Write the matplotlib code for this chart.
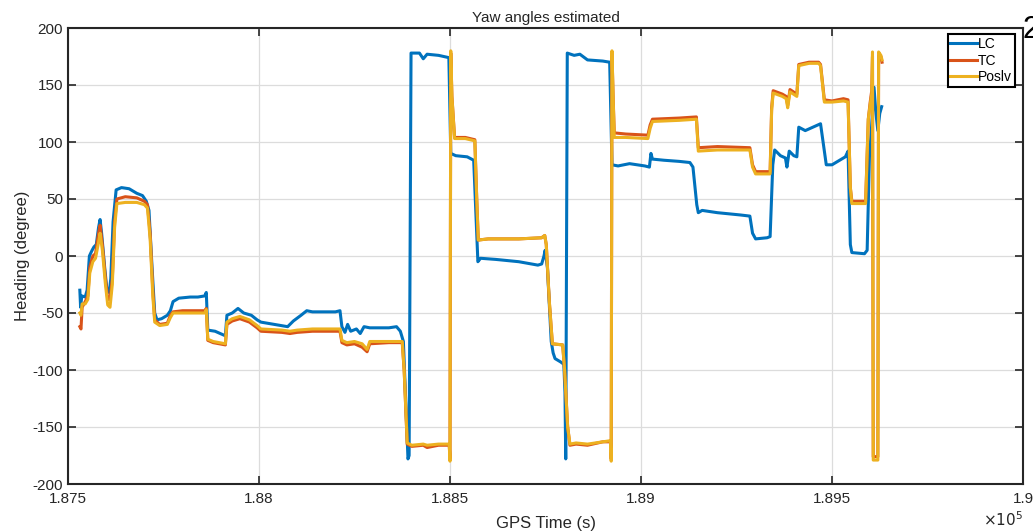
import numpy as np
import matplotlib.pyplot as plt
from matplotlib.ticker import FuncFormatter, MultipleLocator

# GPS time (s) and heading (degree)
t_lc = [187531, 187533, 187536, 187545, 187550, 187556, 187563, 187568, 187574, 187580,
        187584, 187588, 187596, 187602, 187608, 187612, 187618, 187626, 187640, 187660,
        187680, 187695, 187705, 187712, 187720, 187727, 187733, 187745, 187760, 187768,
        187775, 187790, 187820, 187840, 187858, 187862, 187866, 187885, 187905, 187912,
        187916, 187930, 187945, 187960, 187980, 187995, 188005, 188040, 188075, 188090,
        188110, 188125, 188140, 188200, 188212, 188217, 188225, 188232, 188240, 188255,
        188265, 188275, 188290, 188340, 188360, 188370, 188378, 188390, 188393, 188398,
        188420, 188430, 188440, 188470, 188497, 188502, 188515, 188545, 188562, 188570,
        188573, 188580, 188620, 188680, 188730, 188740, 188746, 188749, 188755, 188765,
        188770, 188775, 188790, 188798, 188801, 188803, 188807, 188825, 188840, 188860,
        188900, 188918, 188924, 188940, 188970, 189010, 189022, 189026, 189030, 189060,
        189100, 189128, 189136, 189146, 189150, 189160, 189200, 189260, 189285, 189292,
        189300, 189330, 189338, 189345, 189350, 189365, 189378, 189382, 189388, 189400,
        189408, 189413, 189430, 189450, 189470, 189485, 189500, 189520, 189535, 189542,
        189548, 189552, 189585, 189592, 189598, 189603, 189610, 189615, 189620, 189625,
        189630]
lc = [-30, -45, -35, -36, -30, 0, 5, 8, 10, 25,
      32, 20, -10, -30, -32, -20, 30, 58, 60, 59,
      55, 53, 48, 40, -10, -50, -56, -55, -52, -48,
      -40, -37, -36, -36, -35, -32, -65, -66, -69, -70,
      -52, -50, -46, -50, -52, -56, -58, -60, -62, -57,
      -52, -48, -49, -49, -48, -62, -67, -60, -66, -64,
      -68, -62, -63, -63, -62, -66, -75, -178, -175, 178,
      178, 173, 177, 176, 174, 90, 88, 87, 84, 20,
      -5, -2, -3, -5, -8, -7, 0, 5, -10, -75,
      -85, -90, -93, -95, -120, -178, 178, 176, 177, 172,
      171, 170, 80, 79, 81, 79, 78, 90, 85, 84,
      83, 82, 78, 45, 38, 40, 38, 36, 35, 20,
      15, 16, 17, 80, 93, 88, 86, 78, 92, 88,
      87, 113, 110, 113, 116, 80, 80, 84, 87, 92,
      10, 3, 2, 5, 87, 110, 148, 125, 110, 125,
      131]

t_tc = [187531, 187534, 187537, 187545, 187552, 187557, 187565, 187572, 187580, 187584,
        187590, 187598, 187604, 187610, 187616, 187622, 187628, 187650, 187680, 187700,
        187708, 187715, 187722, 187727, 187740, 187760, 187768, 187775, 187800, 187858,
        187862, 187866, 187880, 187912, 187916, 187930, 187950, 187975, 187995, 188005,
        188060, 188081, 188100, 188140, 188212, 188217, 188230, 188250, 188270, 188283,
        188290, 188340, 188375, 188380, 188388, 188400, 188430, 188440, 188470, 188498,
        188500, 188502, 188505, 188512, 188540, 188565, 188570, 188574, 188600, 188680,
        188740, 188748, 188752, 188760, 188768, 188795, 188800, 188808, 188814, 188830,
        188860, 188900, 188920, 188922, 188924, 188927, 188930, 188960, 189018, 189024,
        189030, 189100, 189145, 189150, 189200, 189285, 189292, 189300, 189338, 189342,
        189346, 189370, 189380, 189384, 189390, 189408, 189413, 189440, 189465, 189470,
        189480, 189500, 189530, 189542, 189548, 189552, 189588, 189595, 189600, 189604,
        189606, 189608, 189620, 189622, 189628, 189631]
tc = [-62, -64, -45, -40, -35, -10, 0, 2, 20, 27,
      10, -20, -38, -38, -20, 30, 50, 52, 51, 48,
      45, 20, -30, -56, -60, -59, -52, -49, -48, -48,
      -46, -74, -76, -78, -60, -57, -55, -58, -63, -66,
      -67, -68, -67, -66, -66, -76, -78, -77, -80, -84,
      -77, -76, -76, -100, -165, -167, -166, -168, -166, -166,
      -178, 178, 140, 104, 104, 102, 50, 14, 15, 15,
      16, 18, 10, -40, -77, -78, -100, -150, -166, -165,
      -166, -163, -163, -178, 178, 140, 108, 107, 106, 115,
      120, 121, 122, 95, 96, 95, 80, 74, 74, 130,
      145, 142, 140, 132, 146, 142, 168, 170, 170, 168,
      137, 136, 138, 137, 60, 48, 48, 120, 135, 145,
      175, -176, -176, 176, 175, 170]

t_pos = [187531, 187534, 187537, 187545, 187552, 187557, 187565, 187572, 187580, 187584,
         187590, 187598, 187604, 187610, 187616, 187622, 187628, 187650, 187680, 187700,
         187708, 187715, 187722, 187727, 187740, 187760, 187768, 187775, 187800, 187858,
         187862, 187866, 187880, 187912, 187916, 187930, 187950, 187975, 187995, 188005,
         188060, 188081, 188100, 188140, 188212, 188217, 188230, 188250, 188270, 188283,
         188290, 188340, 188375, 188380, 188388, 188400, 188430, 188440, 188470, 188498,
         188500, 188502, 188505, 188512, 188540, 188565, 188570, 188574, 188600, 188680,
         188740, 188748, 188752, 188760, 188768, 188795, 188800, 188808, 188814, 188830,
         188860, 188900, 188920, 188922, 188924, 188927, 188930, 188960, 189018, 189024,
         189030, 189100, 189145, 189150, 189200, 189285, 189292, 189300, 189338, 189342,
         189346, 189370, 189380, 189384, 189390, 189408, 189413, 189440, 189465, 189470,
         189480, 189500, 189530, 189542, 189548, 189552, 189588, 189595, 189600, 189604,
         189606, 189608, 189620, 189622, 189628, 189631]
pos = [-50, -52, -42, -42, -38, -15, -5, -2, 12, 20,
       5, -25, -43, -45, -25, 25, 46, 47, 47, 45,
       42, 15, -35, -58, -61, -60, -54, -50, -50, -50,
       -47, -73, -75, -77, -58, -55, -53, -56, -61, -64,
       -65, -66, -65, -64, -64, -74, -76, -75, -77, -82,
       -75, -75, -75, -100, -164, -166, -165, -166, -165, -165,
       -180, 180, 140, 103, 103, 101, 50, 14, 15, 15,
       16, 18, 10, -40, -77, -78, -100, -150, -165, -164,
       -165, -163, -162, -180, 180, 140, 104, 104, 103, 112,
       118, 119, 120, 92, 93, 93, 78, 72, 72, 128,
       143, 140, 138, 130, 144, 140, 167, 169, 169, 167,
       135, 135, 136, 135, 60, 46, 46, 120, 133, 142,
       179, -179, -179, 179, 176, 172]

plt.rcParams['font.family'] = ['Liberation Sans', 'DejaVu Sans']
plt.rcParams['axes.unicode_minus'] = False
axcol = '#262626'

fig = plt.figure(figsize=(10.33, 5.32), dpi=100)
ax = fig.add_axes([68 / 1033, 1 - 484 / 532, 955 / 1033, 456 / 532])

ax.plot(t_lc, lc, color='#0072BD', lw=2.2, label='LC')
ax.plot(t_tc, tc, color='#D95319', lw=2.2, label='TC')
ax.plot(t_pos, pos, color='#EDB120', lw=2.2, label='Poslv')

ax.set_xlim(187500, 190000)
ax.set_ylim(-200, 200)
ax.xaxis.set_major_locator(MultipleLocator(500))
ax.yaxis.set_major_locator(MultipleLocator(50))
ax.xaxis.set_major_formatter(FuncFormatter(lambda v, p: '%g' % (v / 1e5)))

ax.grid(True, color='#dcdcdc', lw=0.9)
ax.set_axisbelow(True)
ax.tick_params(direction='in', length=6, width=1.2, colors=axcol, labelsize=11,
               top=True, right=True)
ax.tick_params(axis='x', pad=6)
for s in ax.spines.values():
    s.set_color(axcol)
    s.set_linewidth(1.5)

ax.set_title('Yaw angles estimated', fontsize=11, color=axcol, pad=4)
ax.set_xlabel('GPS Time (s)', fontsize=12, color=axcol, labelpad=7)
ax.set_ylabel('Heading (degree)', fontsize=12, color=axcol, labelpad=2)
ax.text(1.0, -0.058, r'$\times10^{5}$', transform=ax.transAxes, ha='right', va='top',
        fontsize=11, color=axcol)

leg = ax.legend(loc='upper right', bbox_to_anchor=(1 - 8 / 955, 1 - 6 / 456),
                borderaxespad=0, fontsize=10, handlelength=1.9, handletextpad=0.1,
                labelspacing=0.2, borderpad=0.2, fancybox=False, framealpha=1)
leg.get_frame().set_edgecolor('black')
leg.get_frame().set_linewidth(1.5)

# clipped figure label at the top right corner
fig.text(1022 / 1033, 1 - 45 / 532, '2', fontsize=22, color='black', ha='left', va='bottom')

fig.savefig('out.png', dpi=100)
